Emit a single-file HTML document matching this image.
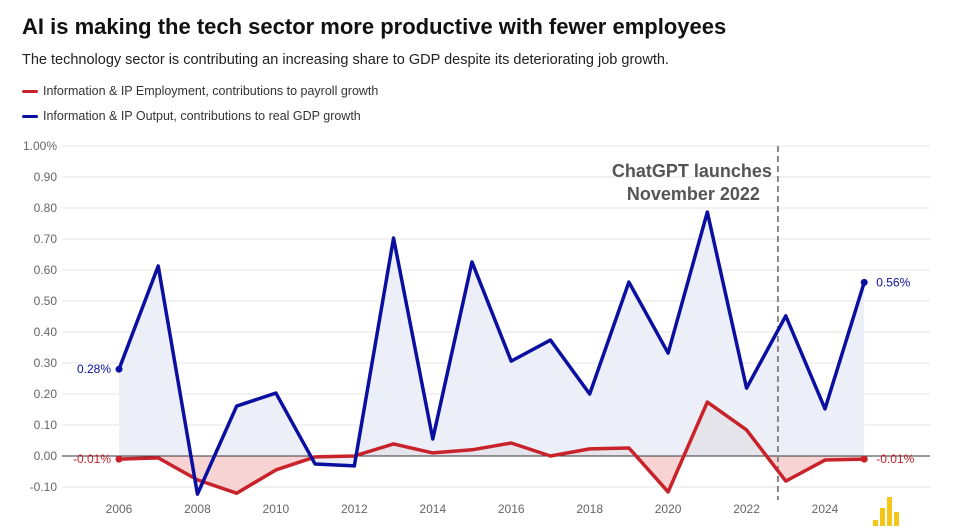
<!DOCTYPE html>
<html><head><meta charset="utf-8"><style>
body{margin:0;background:#fff;font-family:"Liberation Sans",sans-serif;}
.wrap{position:relative;width:967px;height:531px;overflow:hidden;}
h1{position:absolute;left:22px;top:14px;margin:0;font-size:22px;font-weight:bold;color:#111;}
.sub{position:absolute;left:22px;top:52px;font-size:14.5px;color:#222;}
.leg{position:absolute;left:22px;font-size:12.5px;color:#333;}
.leg span{display:inline-block;width:16px;height:3px;border-radius:2px;vertical-align:middle;margin-right:5px;}
</style></head><body><div class="wrap">
<h1>AI is making the tech sector more productive with fewer employees</h1>
<div class="sub">The technology sector is contributing an increasing share to GDP despite its deteriorating job growth.</div>
<div class="leg" style="top:84px"><span style="background:#c8222a"></span>Information &amp; IP Employment, contributions to payroll growth</div>
<div class="leg" style="top:109px"><span style="background:#0b0fa0"></span>Information &amp; IP Output, contributions to real GDP growth</div>
<svg id="svg" width="967" height="531" style="position:absolute;left:0;top:0"></svg>
</div>
<script>
const years=[2006,2007,2008,2009,2010,2011,2012,2013,2014,2015,2016,2017,2018,2019,2020,2021,2022,2023,2024,2025];
const output=[0.28,0.613,-0.123,0.161,0.203,-0.026,-0.032,0.703,0.055,0.626,0.306,0.374,0.2,0.561,0.332,0.787,0.219,0.452,0.152,0.56];
const employment=[-0.01,-0.006,-0.077,-0.12,-0.045,-0.003,0,0.039,0.01,0.02,0.042,0,0.023,0.026,-0.116,0.174,0.084,-0.081,-0.013,-0.01];
const yTicks=[-0.1,0,0.1,0.2,0.3,0.4,0.5,0.6,0.7,0.8,0.9,1.0];
const xTicks=[2006,2008,2010,2012,2014,2016,2018,2020,2022,2024];
const launchYear=2022.8;
const NS="http://www.w3.org/2000/svg";
const svg=document.getElementById('svg');
const X=v=>119+(v-2006)*(825-119)/18;
const Y=v=>456-v*310;
function mk(t,a,txt){const e=document.createElementNS(NS,t);for(const k in a)e.setAttribute(k,a[k]);if(txt!==undefined)e.textContent=txt;svg.appendChild(e);return e;}
yTicks.forEach(t=>{
 const g=mk('line',{x1:62,x2:930,y1:Y(t),y2:Y(t),stroke:t===0?'#333':'#e6e6e6','stroke-width':1});
 
 
 const l=mk('text',{x:57,y:Y(t)+4,'text-anchor':'end','font-size':12,fill:'#666'},t===1?'1.00%':t.toFixed(2));
 
 
});
xTicks.forEach(t=>{
 const l=mk('text',{x:X(t),y:513,'text-anchor':'middle','font-size':12,fill:'#666'},t);
 
 
});
const pts=(arr)=>arr.map((v,i)=>X(years[i])+','+Y(v)).join(' ');
const x0=X(years[0]),x1=X(years[years.length-1]);
const af=mk('polygon',{points:x0+','+Y(0)+' '+pts(output)+' '+x1+','+Y(0),fill:'#eceef8'});


mk('defs',{}).innerHTML='<clipPath id="pos"><rect x="0" y="0" width="967" height="'+Y(0)+'"/></clipPath><clipPath id="neg"><rect x="0" y="'+Y(0)+'" width="967" height="200"/></clipPath>';
const ep=x0+','+Y(0)+' '+pts(employment)+' '+x1+','+Y(0);
const ef1=mk('polygon',{points:ep,fill:'#e4e4ea','clip-path':'url(#pos)'});


const ef2=mk('polygon',{points:ep,fill:'#f8d3d3','clip-path':'url(#neg)'});


mk('line',{x1:62,x2:930,y1:Y(0),y2:Y(0),stroke:'#333','stroke-width':1});
const dl=mk('line',{x1:X(launchYear),x2:X(launchYear),y1:146,y2:500,stroke:'#888','stroke-width':2,'stroke-dasharray':'6,4'});


const a1=mk('text',{x:X(launchYear)-6,y:177,'text-anchor':'end','font-size':18,'font-weight':'bold',fill:'#555'},'ChatGPT launches');


const a2=mk('text',{x:X(launchYear)-18,y:200,'text-anchor':'end','font-size':18,'font-weight':'bold',fill:'#555'},'November 2022');


const rl=mk('polyline',{points:pts(employment),fill:'none',stroke:'#c8222a','stroke-width':3.5,'stroke-linejoin':'round'});


const bl=mk('polyline',{points:pts(output),fill:'none',stroke:'#0b0fa0','stroke-width':3.5,'stroke-linejoin':'round'});


[[output,'#0b0fa0','output'],[employment,'#c8222a','employment']].forEach(([arr,c,n])=>{
 [0,arr.length-1].forEach(i=>{
  const d=mk('circle',{cx:X(years[i]),cy:Y(arr[i]),r:3.5,fill:c});
  
  
  const s=(arr[i]*100/100).toFixed(2)+'%';
  const t=mk('text',{x:i===0?X(years[i])-8:X(years[i])+12,y:Y(arr[i])+4+(n==='employment'?0:0),'text-anchor':i===0?'end':'start','font-size':12,fill:c},s);
  
  
 });
});
[[873,520,6],[880,508,18],[887,497,29],[894,512,14]].forEach(b=>{
 const r=mk('rect',{x:b[0],y:b[1],width:5,height:b[2],fill:'#f5c518'});
 
 
});
</script></body></html>
